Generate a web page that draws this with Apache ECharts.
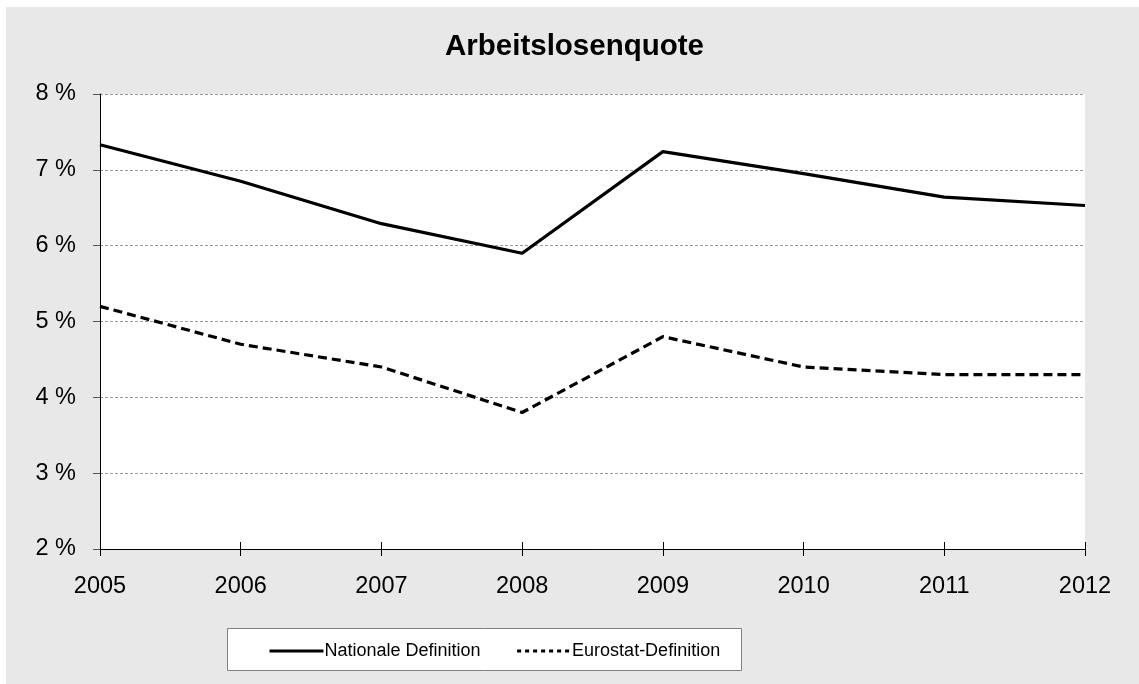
<!DOCTYPE html>
<html>
<head>
<meta charset="utf-8">
<script src="https://cdn.jsdelivr.net/npm/echarts@6/dist/echarts.min.js"></script>
<style>
  html, body { margin: 0; padding: 0; background: #ffffff; }
  #chart { width: 1139px; height: 684px; }
</style>
</head>
<body>
<div id="chart"></div>
<script>
// Arbeitslosenquote 2005–2012, two definitions
const years = ['2005', '2006', '2007', '2008', '2009', '2010', '2011', '2012'];
const nationaleDefinition = [7.33, 6.85, 6.29, 5.90, 7.24, 6.95, 6.64, 6.53];
const eurostatDefinition = [5.2, 4.7, 4.4, 3.8, 4.8, 4.4, 4.3, 4.3];
const seriesNames = ['Nationale Definition', 'Eurostat-Definition'];

const FONT = '"Liberation Sans", Arial, sans-serif';

const chart = echarts.init(document.getElementById('chart'), null, { renderer: 'canvas' });

const baseXAxis = {
  type: 'category',
  data: years,
  boundaryGap: false,
  axisLine: { show: true, lineStyle: { color: '#000', width: 1 } },
  splitLine: { show: false }
};

chart.setOption({
  backgroundColor: '#ffffff',
  animation: false,
  graphic: [
    {
      type: 'rect',
      z: -10,
      shape: { x: 6, y: 7, width: 1139, height: 684 },
      style: { fill: '#e8e8e8' }
    },
    {
      type: 'rect',
      z: -5,
      shape: { x: 227.5, y: 628.5, width: 514, height: 42 },
      style: { fill: '#ffffff', stroke: '#808080', lineWidth: 1 }
    }
  ],
  title: {
    text: 'Arbeitslosenquote',
    left: 440,
    top: 27,
    textStyle: { fontFamily: FONT, fontSize: 29.5, fontWeight: 'bold', color: '#000' }
  },
  legend: {
    left: 263,
    top: 637,
    itemWidth: 54,
    itemHeight: 22,
    itemGap: 35,
    itemStyle: { opacity: 0, borderWidth: 0 },
    data: [
      { name: seriesNames[0], lineStyle: { type: 'solid', width: 3 } },
      { name: seriesNames[1], lineStyle: { type: [4, 4], width: 3 } }
    ],
    textStyle: { fontFamily: FONT, fontSize: 18, color: '#000', padding: [0, 0, 0, -4] }
  },
  grid: {
    left: 100,
    right: 54,
    top: 94,
    bottom: 135,
    show: true,
    backgroundColor: '#ffffff',
    borderWidth: 0
  },
  xAxis: [
    Object.assign({}, baseXAxis, {
      axisTick: { show: true, inside: false, length: 7, alignWithLabel: true, lineStyle: { color: '#000' } },
      axisLabel: { margin: 26, fontFamily: FONT, fontSize: 23.5, color: '#000' }
    }),
    Object.assign({}, baseXAxis, {
      position: 'bottom',
      axisTick: { show: true, inside: true, length: 7, alignWithLabel: true, lineStyle: { color: '#000' } },
      axisLabel: { show: false }
    })
  ],
  yAxis: {
    type: 'value',
    min: 2,
    max: 8,
    interval: 1,
    axisLine: { show: true, lineStyle: { color: '#000', width: 1 } },
    axisTick: { show: true, length: 7, lineStyle: { color: '#555' } },
    axisLabel: {
      margin: 24,
      fontFamily: FONT,
      fontSize: 23.5,
      color: '#000',
      formatter: '{value} %'
    },
    splitLine: { show: true, lineStyle: { color: '#9a9a9a', width: 1, type: [3, 2] } }
  },
  series: [
    {
      name: seriesNames[0],
      type: 'line',
      data: nationaleDefinition,
      symbol: 'none',
      lineStyle: { color: '#000', width: 3.2 },
      itemStyle: { color: '#000' }
    },
    {
      name: seriesNames[1],
      type: 'line',
      data: eurostatDefinition,
      symbol: 'none',
      lineStyle: { color: '#000', width: 3.2, type: [9, 5] },
      itemStyle: { color: '#000' }
    }
  ]
});
</script>
</body>
</html>
